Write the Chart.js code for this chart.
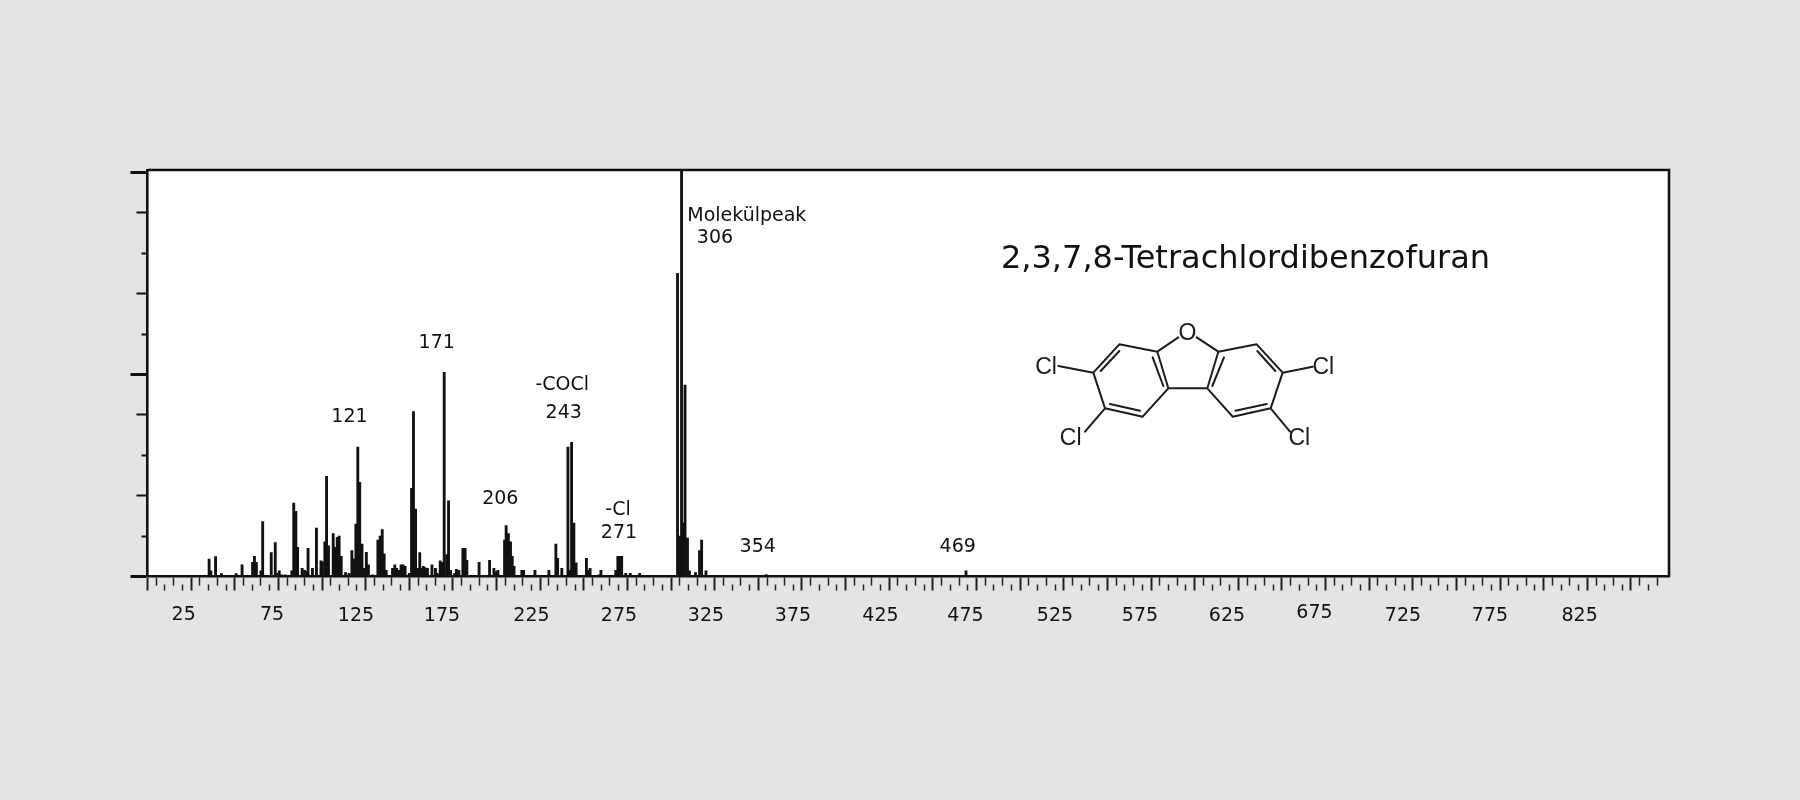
<!DOCTYPE html>
<html><head><meta charset="utf-8">
<script src="https://cdn.jsdelivr.net/npm/chart.js@4"></script>
<style>html,body{margin:0;padding:0;background:#e4e4e4}canvas{display:block;filter:blur(0.4px)}</style>
</head><body><canvas id="c" width="1800" height="800"></canvas>
<script>
const mz = [35.3,36.3,39,42.4,50.8,54.2,60.2,61.3,62.4,65,66,70.9,73.2,74.2,75.5,77,79,82.7,83.8,85,86,88.6,90,91,92,94.5,96.8,99.4,100.2,101.6,102.6,103.7,106.4,107.5,108.7,109.8,111,113.5,115.5,117.1,118.2,119.4,120.5,121.6,122.9,124,125.4,126.6,129,132,133.3,134.5,135.6,136.8,140.4,141.7,142.8,144,145.3,146.4,147.6,150,151.3,152.4,153.6,155,156,157,158,159,160.4,163,165,166,167.7,169,170,171.4,172.5,173.7,176,177,178.4,180.7,182,183,186.5,190,196,198.5,199.6,200.8,204.6,205.5,206.8,208,209,210,214.5,215.5,222,230,234,235,237.4,240.9,242,243,244.3,245.6,251.5,252.6,253.6,258.7,259.8,268.3,269.5,270.5,271.7,274,276.6,282,303.7,304.9,306,307.2,308,309.4,310.5,314,316.3,317.5,320,354.5,469];
const intensity = [4.3,1.4,4.9,0.7,0.7,2.9,3.5,5,3.5,1.4,13.6,5.9,8.4,0.8,1.4,0.4,0.4,1.4,18.2,16.1,7.2,2,1.5,1.2,7,2,12,3.9,3.6,8.6,24.8,7.6,10.6,7.2,9.7,10,5,1,0.8,6.4,4.4,13,32,23.3,8,2,6,2.9,0.4,9,10,11.6,5.6,1.5,2,2.9,2,1.5,2.9,2.9,2.5,0.8,21.8,40.8,16.7,2,5.9,2,2.5,2.2,2,2.9,2,0.8,3.9,3.5,50.5,5.4,18.7,1.5,0.8,1.8,1.5,7,7,4,0.3,3.5,4,2,1.2,1.5,9,12.6,10.6,8.6,5,2.5,1.5,1.5,1.5,1.5,8,4.5,2,32,1.5,33.2,13.2,3.4,4.5,1.5,2,0.4,1.5,1.5,5,5,5,0.8,0.8,0.8,75,10,100.6,13.2,47.4,9.5,1.4,1,6.4,9,1.4,0.5,1.4];
const xTickLabels = ["25","75","125","175","225","275","325","375","425","475","525","575","625","675","725","775","825"];
const xLabelX = [183.7,272,356,442,531.5,619,706,793,880.5,965.5,1055,1140,1227,1314.5,1403,1490,1579.6];
const xLabelY = [615,615,616,616,616,616,616,616,616,616,616,616,616,613,616,616,616];
const yTickValues = [0,10,20,30,40,50,60,70,80,90,100];
const yTickLen = {0:17,10:6,20:11,30:6,40:11,50:17,60:6,70:11,80:6,90:11,100:17};
const notes = [
  ["121",349.5,417.5],["171",436.7,343],["-COCl",562.3,385],["243",563.7,413.5],["206",500.3,499.5],
  ["-Cl",618,510],["271",619,533],["354",757.7,547],["469",957.7,547],["Molekülpeak",746.8,216],["306",715,238]
];
const title = "2,3,7,8-Tetrachlordibenzofuran";

const ink = '#111111';
const FONT = '"DejaVu Sans"';
const pagePlugin = {
  id:'page',
  afterUpdate(chart){
    chart.scales.x.getLabelItems().forEach(it=>{
      const i = xTickLabels.indexOf(String(it.label));
      if(i<0) return;
      it.options.translation=[xLabelX[i],xLabelY[i]];
      it.options.textBaseline='middle';
      it.options.textAlign='center';
      it.textOffset=0;
    });
  },
  beforeDraw(chart){
    const {ctx,chartArea:a}=chart;
    ctx.save();
    ctx.fillStyle='#e4e4e4';ctx.fillRect(0,0,1800,800);
    ctx.fillStyle='#ffffff';ctx.fillRect(a.left,a.top,a.right-a.left,a.bottom-a.top);
    ctx.restore();
  },
  afterDraw(chart){
    const {ctx,chartArea:a}=chart;
    ctx.save();
    ctx.strokeStyle=ink;ctx.lineWidth=2.6;
    ctx.beginPath();ctx.moveTo(a.left,a.top);ctx.lineTo(a.right,a.top);ctx.lineTo(a.right,a.bottom);ctx.stroke();
    ctx.fillStyle=ink;ctx.textAlign='center';ctx.textBaseline='middle';
    ctx.font='19px '+FONT;
    notes.forEach(n=>ctx.fillText(n[0],n[1],n[2]));
    ctx.font='32px '+FONT;
    ctx.fillText(title,1245.5,260);
    drawMolecule(ctx);
    ctx.restore();
  }
};
function drawMolecule(ctx){
  const X=v=>1000+v/3, Y=v=>300+v/3;
  const bonds=[
    [535,112,472,155],[472,155,358,133],[358,133,280,218],[280,218,315,325],[315,325,428,350],[428,350,505,265],[505,265,472,155],
    [358,153,302,213],[330,312,420,332],[490,258,458,172],
    [590,112,655,155],[655,155,770,133],[770,133,848,218],[848,218,812,325],[812,325,698,350],[698,350,622,265],[622,265,655,155],
    [772,153,826,213],[800,312,706,332],[637,258,672,172],
    [505,265,622,265],
    [280,218,175,198],[315,325,255,395],[848,218,938,200],[812,325,870,395]
  ];
  ctx.strokeStyle='#1c1c1c';ctx.lineWidth=2;ctx.lineCap='round';
  ctx.beginPath();
  bonds.forEach(b=>{ctx.moveTo(X(b[0]),Y(b[1]));ctx.lineTo(X(b[2]),Y(b[3]));});
  ctx.stroke();
  ctx.fillStyle='#1c1c1c';ctx.font='23px "Liberation Sans"';ctx.textAlign='center';ctx.textBaseline='middle';
  [["O",562,97],["Cl",138,199],["Cl",212,412],["Cl",970,199],["Cl",898,413]].forEach(l=>ctx.fillText(l[0],X(l[1]),Y(l[2])+1));
}

new Chart(document.getElementById('c'),{
  type:'bar',
  data:{datasets:[{data:mz.map((x,i)=>({x,y:intensity[i]})),backgroundColor:ink,borderWidth:0,barThickness:2.2}]},
  options:{
    responsive:false,animation:false,
    layout:{padding:{left:0,top:170,right:131,bottom:0}},
    plugins:{legend:{display:false},tooltip:{enabled:false},title:{display:false}},
    scales:{
      x:{type:'linear',min:0,max:871.8,offset:false,
        afterFit(s){s.height=223.5;},
        afterBuildTicks(s){s.ticks=s.ticks.filter(t=>t.value<=865);},
        border:{display:true,color:ink,width:2.6},
        grid:{offset:false,display:true,drawOnChartArea:false,drawTicks:true,tickLength:14,tickColor:'#222',
          tickWidth:c=>c.tick&&c.tick.value%25===0?2:1.5,
          tickBorderDash:c=>{const v=c.tick?c.tick.value:0; const k=(v%25)/5; if(k===0) return []; return k%2===0?[0,7,8,100]:[8,100];}},
        ticks:{stepSize:5,autoSkip:false,maxRotation:0,minRotation:0,includeBounds:false,color:ink,font:{family:'DejaVu Sans',size:19},
          callback:v=>xTickLabels.includes(String(v))?String(v):''}
      },
      y:{type:'linear',min:0,max:100.6,
        afterFit(s){s.width=147.5;},
        afterBuildTicks(s){s.ticks=yTickValues.map(value=>({value}));},
        border:{display:true,color:ink,width:2.6},
        grid:{display:true,drawOnChartArea:false,drawTicks:true,tickLength:17,tickColor:ink,
          tickWidth:c=>c.tick&&yTickLen[c.tick.value]===17?3:2,
          tickBorderDash:c=>{const l=c.tick?yTickLen[c.tick.value]:17; return l===17?[]:[0,17-l,l,100];}},
        ticks:{stepSize:10,display:false}
      }
    }
  },
  plugins:[pagePlugin]
});
</script></body></html>
